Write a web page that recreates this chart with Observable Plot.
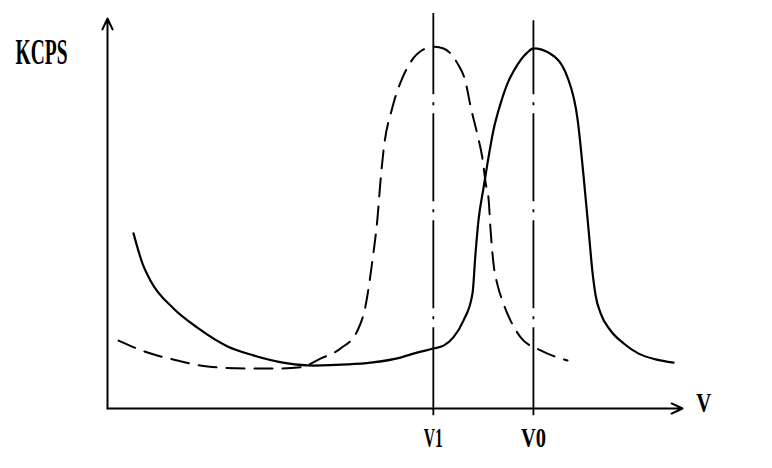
<!DOCTYPE html>
<html>
<head>
<meta charset="utf-8">
<script src="https://cdn.jsdelivr.net/npm/d3@7"></script>
<script src="https://cdn.jsdelivr.net/npm/@observablehq/plot@0.6"></script>
<style>
  html, body { margin: 0; padding: 0; background: #fff; }
</style>
</head>
<body>
<div id="chart"></div>
<script>
// Solid curve (reference sample) — x in voltage units (V0 = 100), y in KCPS (peak = 100)
const solidX = [6.1, 8.2, 10.1, 15.5, 21.1, 28.2, 34.3, 42.3, 48.4, 56.4, 61.8, 68.8, 71.8, 76.5, 78.9, 81.2, 83.6, 85.7, 86.4, 87.1, 88.3, 89.2, 90.6, 92.3, 94.2, 95.3, 98.6, 100.0, 103.9, 108.0, 110.4, 111.8, 112.9, 113.9, 114.6, 115.8, 118.1, 121.2, 124.7, 128.7, 132.9];
const solidY = [48.5, 40.2, 35.4, 27.7, 22.4, 17.2, 14.7, 12.5, 11.9, 12.2, 12.7, 14.1, 15.2, 16.6, 17.4, 19.7, 24.4, 31.9, 42.9, 52.1, 61.2, 67.8, 77.0, 84.5, 90.8, 93.3, 98.6, 99.7, 98.3, 91.7, 79.8, 64.0, 50.1, 37.4, 31.3, 26.3, 21.6, 18.0, 15.2, 13.6, 12.7];

// Dashed curve (shifted sample)
const dashX = [2.6, 9.4, 16.4, 23.5, 32.9, 40.6, 45.3, 50.0, 54.7, 58.7, 60.6, 62.2, 63.4, 64.1, 64.8, 66.9, 69.3, 71.1, 74.7, 76.8, 78.9, 82.2, 84.1, 85.2, 86.9, 88.0, 88.8, 89.5, 89.9, 90.6, 91.6, 92.7, 94.6, 97.0, 101.7, 108.0];
const dashY = [18.8, 15.5, 13.3, 11.6, 11.1, 11.1, 11.4, 13.8, 16.6, 21.6, 28.5, 41.0, 52.9, 63.1, 71.4, 83.4, 91.7, 95.8, 99.7, 100.2, 99.7, 95.5, 90.3, 83.9, 75.6, 69.5, 62.3, 57.6, 50.1, 40.4, 34.1, 29.9, 24.4, 19.7, 16.1, 13.3];

// Marked voltages
const markNames = ["V1", "V0"];
const markValues = [76.5, 100];

// Axis labels
const yLabel = "KCPS";
const xLabel = "V";

const solid = solidX.map((x, i) => ({x, y: solidY[i]}));
const dashed = dashX.map((x, i) => ({x, y: dashY[i]}));
const marks = markValues.map((v, i) => ({v, name: markNames[i]}));

const font = "'Liberation Serif', 'DejaVu Serif', serif";

const chart = Plot.plot({
  width: 772,
  height: 468,
  marginLeft: 107,
  marginRight: 90,
  marginTop: 18,
  marginBottom: 60,
  x: {domain: [0, 135]},
  y: {domain: [0, 108], axis: null},
  style: {background: "#fff", color: "#000", fontFamily: font},
  marks: [
    // vertical reference lines at V1 and V0
    Plot.ruleX(marks, {x: "v", y1: -2, y2: d => d.v === 100 ? 107.4 : 109.4, stroke: "#000", strokeWidth: 1.8, strokeDasharray: "88,8,3,8"}),
    // axes with arrows
    Plot.arrow([0], {x1: 0, y1: 0, x2: 135, y2: 0, stroke: "#000", strokeWidth: 2, headLength: 9, headAngle: 50}),
    Plot.arrow([0], {x1: 0, y1: 0, x2: 0, y2: 108, stroke: "#000", strokeWidth: 2, headLength: 9, headAngle: 50}),
    // curves
    Plot.line(solid, {x: "x", y: "y", curve: "monotone-x", stroke: "#000", strokeWidth: 2.2}),
    Plot.line(dashed, {x: "x", y: "y", curve: "monotone-x", stroke: "#000", strokeWidth: 2, strokeDasharray: "18,10"}),
    // tick labels V1, V0
    Plot.axisX({ticks: markValues, tickFormat: (d, i) => markNames[i], tickSize: 0, tickPadding: 19, fontSize: 28, fontWeight: "bold"}),
    // axis titles
    Plot.text([yLabel], {x: -15.5, y: 98.6, text: d => d, fontSize: 35, fontWeight: "bold", fill: "#000"}),
    Plot.text([xLabel], {x: 140.0, y: 1.6, text: d => d, fontSize: 28, fontWeight: "bold", fill: "#000"})
  ]
});

// condense the labels like the scanned lettering
const widths = {"KCPS": 52, "V1": 19, "V0": 25, "V": 15};
d3.select(chart).selectAll("text").each(function() {
  const t = this.textContent.trim();
  if (widths[t]) {
    d3.select(this).attr("textLength", widths[t]).attr("lengthAdjust", "spacingAndGlyphs");
    d3.select(this).selectAll("tspan").attr("textLength", widths[t]).attr("lengthAdjust", "spacingAndGlyphs");
  }
});

document.getElementById("chart").appendChild(chart);
</script>
</body>
</html>
